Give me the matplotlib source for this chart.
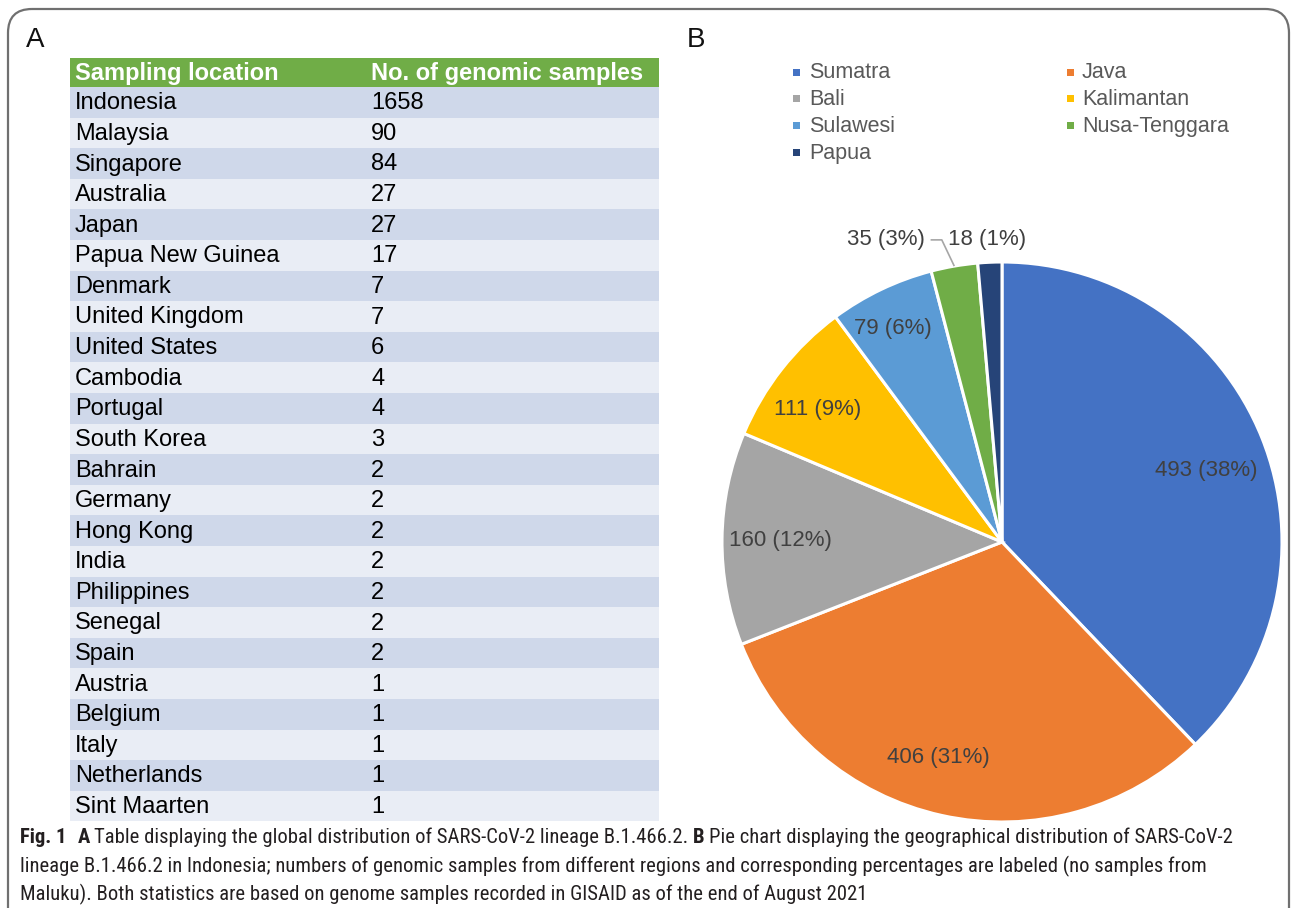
import matplotlib
matplotlib.use("Agg")
import matplotlib.pyplot as plt
from matplotlib.patches import Rectangle, FancyBboxPatch
from matplotlib import font_manager as fm
import numpy as np

# ---------------- data ----------------
table_header = ["Sampling location", "No. of genomic samples"]
locations = ["Indonesia", "Malaysia", "Singapore", "Australia", "Japan",
             "Papua New Guinea", "Denmark", "United Kingdom", "United States",
             "Cambodia", "Portugal", "South Korea", "Bahrain", "Germany",
             "Hong Kong", "India", "Philippines", "Senegal", "Spain", "Austria",
             "Belgium", "Italy", "Netherlands", "Sint Maarten"]
samples = [1658, 90, 84, 27, 27, 17, 7, 7, 6, 4, 4, 3, 2, 2, 2, 2, 2, 2, 2,
           1, 1, 1, 1, 1]

regions = ["Sumatra", "Java", "Bali", "Kalimantan", "Sulawesi",
           "Nusa-Tenggara", "Papua"]
region_counts = [493, 406, 160, 111, 79, 35, 18]
region_colors = ["#4472C4", "#ED7D31", "#A5A5A5", "#FFC000", "#5B9BD5",
                 "#70AD47", "#264478"]

caption_line1 = [("Fig. 1", True, 0), ("A", True, 8),
                 ("Table displaying the global distribution of SARS-CoV-2 lineage B.1.466.2.", False, 3),
                 ("B", True, 3.5),
                 ("Pie chart displaying the geographical distribution of SARS-CoV-2", False, 3)]
caption_line2 = ("lineage B.1.466.2 in Indonesia; numbers of genomic samples from "
                 "different regions and corresponding percentages are labeled (no samples from")
caption_line3 = ("Maluku). Both statistics are based on genome samples recorded in "
                 "GISAID as of the end of August 2021")

# label positions (fraction of pie radius), layout only
label_pos = [(0.729, 0.257), (-0.229, -0.771), (-0.793, 0.004), (-0.657, 0.475),
             (-0.389, 0.764), (-0.414, 1.079), (-0.054, 1.079)]


def first_font(cands):
    for c in cands:
        try:
            fm.findfont(fm.FontProperties(family=c), fallback_to_default=False)
            return c
        except Exception:
            continue
    return "DejaVu Sans"


# ---------------- figure ----------------
W, H = 1295, 908
fig = plt.figure(figsize=(W / 100, H / 100), dpi=100)
bg = fig.add_axes([0, 0, 1, 1])
bg.set_xlim(0, W)
bg.set_ylim(H, 0)
bg.axis("off")

SANS = ["Liberation Sans", "DejaVu Sans"]

# frame
frame = FancyBboxPatch((8, 9), 1281, 1100, boxstyle="round,pad=0,rounding_size=24",
                       fc="none", ec="#707070", lw=1.6, clip_on=True)
bg.add_patch(frame)

# panel labels
bg.text(26, 40, "A", fontsize=20, family=SANS, va="center", ha="left", color="#111")
bg.text(687, 40, "B", fontsize=20, family=SANS, va="center", ha="left", color="#111")

# ---------------- table ----------------
tx0, tx1 = 70, 659
ty0, head_h, row_h = 58, 29, 30.6
col_x = [75, 371]
bg.add_patch(Rectangle((tx0, ty0), tx1 - tx0, head_h, fc="#70AD47", ec="none"))
for j, h in enumerate(table_header):
    bg.text(col_x[j], ty0 + head_h / 2 + 1, h, fontsize=17, fontweight="bold",
            family=SANS, color="white", va="center", ha="left")
for i, (loc, n) in enumerate(zip(locations, samples)):
    y = ty0 + head_h + i * row_h
    bg.add_patch(Rectangle((tx0, y), tx1 - tx0, row_h,
                           fc="#CFD8EA" if i % 2 == 0 else "#E9EDF5", ec="none"))
    bg.text(col_x[0], y + row_h / 2 + 1, loc, fontsize=17, family=SANS,
            color="black", va="center", ha="left")
    bg.text(col_x[1], y + row_h / 2 + 1, str(n), fontsize=17, family=SANS,
            color="black", va="center", ha="left")

# ---------------- legend ----------------
leg_x_marker = [796, 1070]
leg_x_text = [809, 1082]
leg_y0, leg_dy = 72, 26.7
for i, (name, c) in enumerate(zip(regions, region_colors)):
    r, col = divmod(i, 2)
    y = leg_y0 + r * leg_dy
    bg.add_patch(Rectangle((leg_x_marker[col] - 3.5, y - 3.5), 7, 7, fc=c, ec="none"))
    bg.text(leg_x_text[col], y + 1, name, fontsize=15.5, family=SANS,
            color="#595959", va="center", ha="left")

# ---------------- pie ----------------
cx, cy, R = 1002, 542, 280
pax = fig.add_axes([(cx - R) / W, (H - cy - R) / H, 2 * R / W, 2 * R / H])
wedges, _ = pax.pie(region_counts, colors=region_colors, startangle=90,
                    counterclock=False, radius=1,
                    wedgeprops=dict(edgecolor="white", linewidth=2.2))
pax.set_xlim(-1, 1)
pax.set_ylim(-1, 1)
pax.set_aspect("equal")
pax.axis("off")
total = sum(region_counts)
labels = [f"{v} ({round(100 * v / total)}%)" for v in region_counts]
for i, (w, lab) in enumerate(zip(wedges, labels)):
    px, py = label_pos[i]
    pax.text(px, py, lab, fontsize=16, family=SANS, color="#404040",
             ha="center", va="center", clip_on=False)
# leader line for the small Nusa-Tenggara slice
w5 = wedges[5]
mid5 = np.deg2rad((w5.theta1 + w5.theta2) / 2)
ly = label_pos[5][1]
pax.plot([-0.255, -0.215, np.cos(mid5) * 1.0], [ly, ly, np.sin(mid5) * 1.0],
         color="#A6A6A6", lw=1.2, clip_on=False, solid_capstyle="butt")

# ---------------- caption ----------------
CAPF = first_font(["Liberation Sans Narrow", "Roboto Condensed", "Open Sans Condensed",
                   "Open Sans"])
CAP = [CAPF, "DejaVu Sans"]
renderer = fig.canvas.get_renderer()
probe = bg.text(0, 0, caption_line2, fontsize=10, family=CAP)
w10 = probe.get_window_extent(renderer).width
probe.remove()
cap_size = min(10 * 1177 / w10, 16)
cap_color = "#231F20"


def draw_runs(runs, x, y):
    prev = None
    for txt, bold, gap in runs:
        kw = dict(fontsize=cap_size, fontweight="bold" if bold else "normal",
                  family=CAP, color=cap_color, va="baseline", ha="left")
        if prev is None:
            prev = bg.text(x, y, txt, **kw)
        else:
            prev = bg.annotate(txt, xy=(1, y), xycoords=(prev, "data"),
                               xytext=(gap, 0), textcoords="offset points", **kw)


draw_runs(caption_line1, 20, 843)
bg.text(20, 872, caption_line2, fontsize=cap_size, family=CAP, color=cap_color,
        va="baseline", ha="left")
bg.text(20, 900, caption_line3, fontsize=cap_size, family=CAP, color=cap_color,
        va="baseline", ha="left")

fig.savefig("out.png", dpi=100)
